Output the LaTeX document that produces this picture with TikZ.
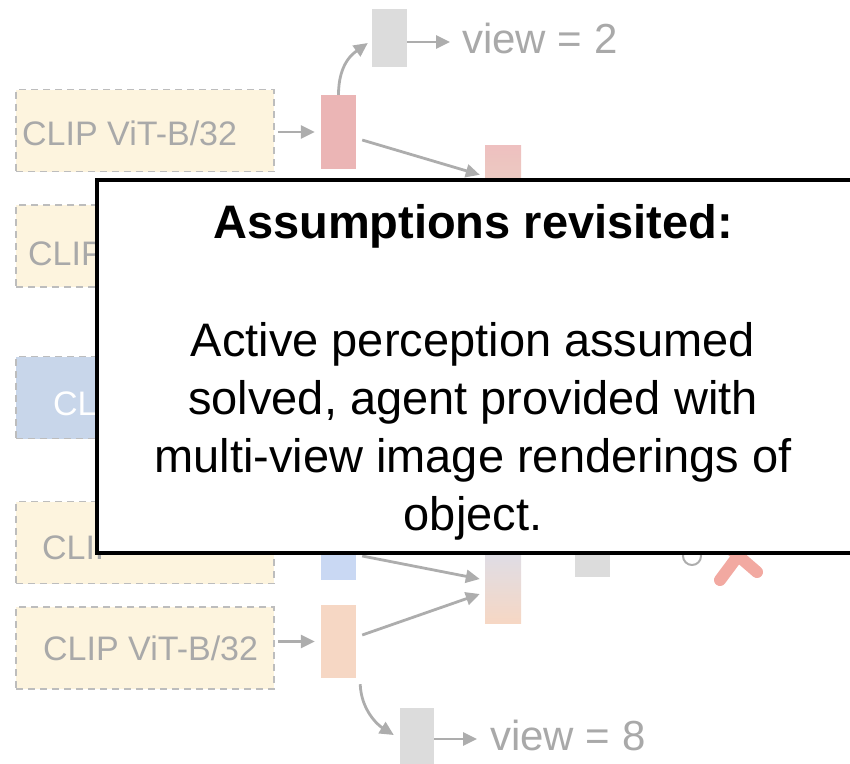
\documentclass[tikz,border=0pt]{standalone}
\usepackage{fontspec}
\setmainfont{Liberation Sans}
\usetikzlibrary{arrows.meta,calc}

\definecolor{yfill}{HTML}{FDF4DE}
\definecolor{bfill}{HTML}{C8D6EA}
\definecolor{dashgrey}{HTML}{BDBDBD}
\definecolor{txtgrey}{HTML}{A9A9A9}
\definecolor{conngrey}{HTML}{ADADAD}
\definecolor{redbar}{HTML}{EBB5B5}
\definecolor{bluebar}{HTML}{C9D8F3}
\definecolor{orangebar}{HTML}{F6D7C4}
\definecolor{greybar}{HTML}{DCDCDC}
\definecolor{crossred}{HTML}{F2A9A1}
\definecolor{tanbar}{HTML}{E9D8C2}

\tikzset{
  encbox/.style={draw=dashgrey, dash pattern=on 7pt off 5pt, line width=1.8pt,
    fill=yfill, minimum width=258pt, minimum height=82pt, inner sep=0pt},
  enctext/.style={text=txtgrey, font=\fontsize{34}{40}\selectfont, inner sep=0pt, anchor=base west},
  bar/.style={inner sep=0pt, minimum width=35pt},
  viewtext/.style={text=txtgrey, font=\fontsize{42}{48}\selectfont, inner sep=0pt,
    anchor=base west, text height=22pt, text depth=0pt},
  conn/.style={draw=conngrey, line width=2.8pt, -{Triangle[length=14pt,width=13pt]}},
  panel/.style={draw=black, line width=4pt, fill=white},
  paneltext/.style={font=\fontsize{47}{57}\selectfont, inner sep=0pt, anchor=base},
}

\begin{document}
\begin{tikzpicture}[x=1pt,y=-1pt]
\useasboundingbox (0,0) rectangle (850,763);
\clip (0,0) rectangle (850,763);

% encoder boxes
\node[encbox] (b1) at (145,130.5) {};
\node[encbox] (b2) at (145,246) {};
\node[encbox, fill=bfill] (b3) at (145,397.5) {};
\node[encbox] (b4) at (145,542.5) {};
\node[encbox] (b5) at (145,648) {};
\node[enctext] (t1) at (22,145) {CLIP ViT-B/32};
\node[enctext] (t2) at (28,265) {CLIP};
\node[enctext, text=white] (t3) at (53,415) {CL};
\node[enctext] (t4) at (42,559) {CLIP};
\node[enctext] (t5) at (43,660) {CLIP ViT-B/32};

% feature bars
\node[bar, fill=redbar, minimum height=74pt] (r1) at (338.5,132) {};
\node[bar, fill=bluebar, minimum height=80pt] (r4) at (338.5,540) {};
\node[bar, fill=orangebar, minimum height=73pt] (r5) at (338.5,641.5) {};
\node[bar, fill=greybar, minimum height=58pt] (g1) at (389.5,38) {};
\node[bar, fill=greybar, minimum width=34pt, minimum height=64pt] (g5) at (417,740) {};
\node[bar, fill=greybar, minimum height=57pt] (gm) at (592.5,548.5) {};
\node[bar, minimum width=36pt, minimum height=90pt, top color=redbar!85!white,
  bottom color=tanbar] (m1) at (503,190) {};
\node[bar, minimum width=36pt, minimum height=103pt, top color=bluebar!80!white,
  bottom color=orangebar] (m2) at (503,571.5) {};

% view labels
\node[viewtext] (v2) at (462,53) {view = 2};
\node[viewtext] (v8) at (490,750) {view = 8};

% connectors
\draw[conn, shorten <=3pt, shorten >=6pt] (b1.east |- r1.west) -- (r1.west);
\draw[conn, shorten <=3pt, shorten >=6pt] (b5.east |- r5.west) -- (r5.west);
\draw[conn] (r1.north) .. controls +(0,-32) and +(-14,10) .. ($(g1.west)+(-4,5)$);
\draw[conn, shorten >=12pt] (g1.east |- v2.west) -- (v2.west);
\draw[conn] ($(r1.east)+(6,8)$) -- ($(m1.north west)+(-5,30)$);
\draw[conn] ($(r4.east)+(6,16)$) -- ($(m2.west)+(-5,7.5)$);
\draw[conn] ($(r5.east)+(6,-6.5)$) -- ($(m2.west)+(-5,22.5)$);
\draw[conn] ($(r5.south east)+(4,6)$) .. controls +(1,26) and +(-16,-10) .. ($(g5.west)+(-6,-5)$);
\draw[conn, shorten >=13pt] (g5.east |- v8.west) -- (v8.west);

% outcome marks
\draw[conngrey, line width=2pt] (692,556) circle (9pt);
\draw[crossred, line width=12pt, line cap=round] (720,580) -- (752,537);
\draw[crossred, line width=12pt, line cap=round] (757,572) -- (720,540);

% overlay panel
\draw[panel] (97,180) rectangle (880,553);
\node[paneltext, font=\fontsize{47}{57}\selectfont\bfseries] (title) at (473,238) {Assumptions revisited:};
\node[paneltext] (l1) at (473,356) {Active perception assumed};
\node[paneltext] (l2) at (473,414) {solved, agent provided with};
\node[paneltext] (l3) at (473,472) {multi-view image renderings of};
\node[paneltext] (l4) at (473,530) {object.};
\end{tikzpicture}
\end{document}
